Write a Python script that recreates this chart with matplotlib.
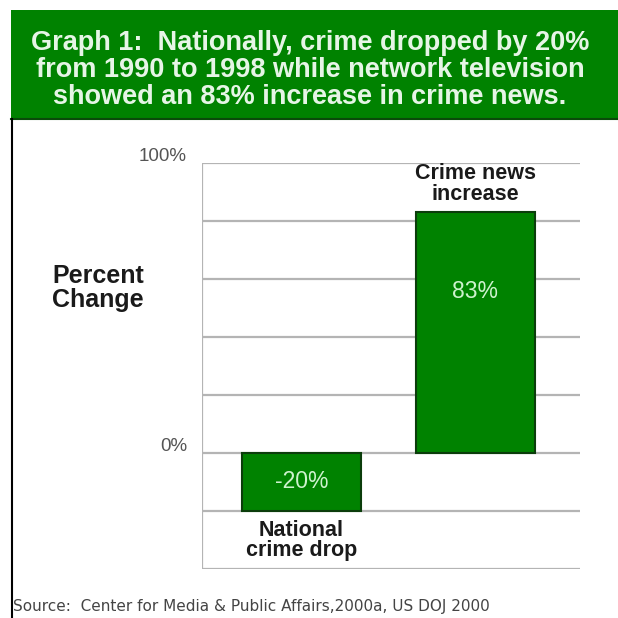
import matplotlib
matplotlib.use("Agg")
import matplotlib.pyplot as plt
from matplotlib.patches import Rectangle
from matplotlib.lines import Line2D

plt.rcParams['font.family'] = ['Liberation Sans', 'DejaVu Sans']

# data
categories = ["National\ncrime drop", "Crime news\nincrease"]
values = [-20, 83]
value_labels = ["-20%", "83%"]
grid_levels = [-40, -20, 0, 20, 40, 60, 80, 100]
tick_labels = {100: "100%", 0: "0%"}

title = ("Graph 1:  Nationally, crime dropped by 20%\n"
         "from 1990 to 1998 while network television\n"
         "showed an 83% increase in crime news.")
source = "Source:  Center for Media & Public Affairs,2000a, US DOJ 2000"

GREEN = "#008200"
BAR_EDGE = "#0b3d0b"
GRID = "#b4b4b4"

fig = plt.figure(figsize=(6.18, 6.18), dpi=100)
fig.patch.set_facecolor("white")

# green header band and left frame line
fig.patches.append(Rectangle((11 / 618, 1 - 119 / 618), 1 - 11 / 618, 109 / 618,
                             transform=fig.transFigure, facecolor=GREEN,
                             edgecolor="none", zorder=0))
fig.lines.append(Line2D([11 / 618, 1], [1 - 119 / 618, 1 - 119 / 618],
                        transform=fig.transFigure, color="#0a4a0a", lw=1.5))
fig.lines.append(Line2D([12 / 618, 12 / 618], [0, 1 - 119 / 618],
                        transform=fig.transFigure, color="black", lw=1.5))

fig.text(310 / 618, 1 - 70 / 618, title, ha="center", va="center", color="#e6f5e6",
         fontsize=19.5, fontweight="bold", linespacing=1.04)

ax = fig.add_axes([202 / 618, 1 - 569 / 618, 378 / 618, 406 / 618])
ax.set_xlim(0, 2)
ax.set_ylim(-40, 100)
for s in ax.spines.values():
    s.set_visible(False)
ax.set_xticks([])
ax.set_yticks([])

for g in grid_levels:
    ax.axhline(g, color=GRID, lw=1.6, zorder=1)
ax.axvline(0, color=GRID, lw=1.6, zorder=1)

xpos = [0.526, 1.447]
ax.bar(xpos, values, width=0.63, color=GREEN, edgecolor=BAR_EDGE, lw=1.5, zorder=3)

for x, txt, v in zip(xpos, value_labels, values):
    ax.text(x, v / 2 if v < 0 else v * 0.67, txt, ha="center", va="center",
            color="#cdf2cd", fontsize=16.5, zorder=4)

# category labels: below negative bar, above positive bar
for x, v, cat in zip(xpos, values, categories):
    if v < 0:
        ax.text(x, v - 3, cat, ha="center", va="top", fontsize=15.5,
                fontweight="bold", color="#1a1a1a", linespacing=0.98)
    else:
        ax.text(x, v + 2.5, cat, ha="center", va="bottom", fontsize=15.5,
                fontweight="bold", color="#1a1a1a", linespacing=0.98)

for lvl, txt in tick_labels.items():
    ax.text(-0.08, lvl + 2.2, txt, ha="right", va="center", fontsize=13.5,
            color="#555555")

fig.text(98 / 618, 1 - 288 / 618, "Percent\nChange", ha="center", va="center",
         fontsize=18, fontweight="bold", color="#1a1a1a", linespacing=0.95)

fig.text(13 / 618, 1 - 607 / 618, source, ha="left", va="center", fontsize=11,
         color="#444444", family="DejaVu Sans")

fig.savefig("out.png", dpi=100)
